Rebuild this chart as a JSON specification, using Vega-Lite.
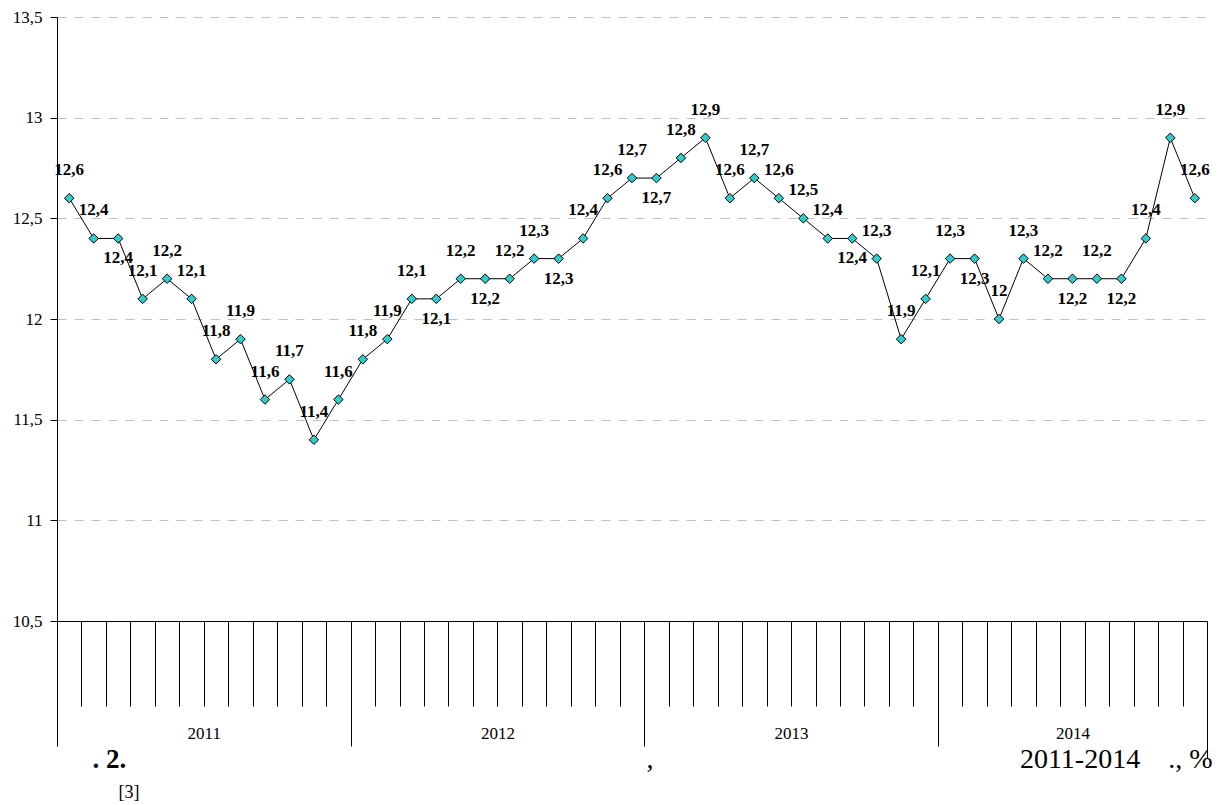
{
  "$schema": "https://vega.github.io/schema/vega-lite/v6.json",
  "width": 1150,
  "height": 604,
  "autosize": {"type": "none"},
  "padding": {"left": 57, "top": 17, "right": 22, "bottom": 184},
  "background": "white",
  "config": {
    "view": {"stroke": null},
    "font": "Liberation Serif",
    "locale": {"number": {"decimal": ",", "thousands": " ", "grouping": [3], "currency": ["", ""]}},
    "axis": {
      "labelFont": "Liberation Serif",
      "titleFont": "Liberation Serif",
      "labelColor": "black",
      "titleColor": "black",
      "domainColor": "black",
      "tickColor": "black",
      "domainWidth": 1,
      "tickWidth": 1
    }
  },
  "data": {
    "values": [
      {"month": 1, "year": 2011, "value": 12.6},
      {"month": 2, "year": 2011, "value": 12.4},
      {"month": 3, "year": 2011, "value": 12.4},
      {"month": 4, "year": 2011, "value": 12.1},
      {"month": 5, "year": 2011, "value": 12.2},
      {"month": 6, "year": 2011, "value": 12.1},
      {"month": 7, "year": 2011, "value": 11.8},
      {"month": 8, "year": 2011, "value": 11.9},
      {"month": 9, "year": 2011, "value": 11.6},
      {"month": 10, "year": 2011, "value": 11.7},
      {"month": 11, "year": 2011, "value": 11.4},
      {"month": 12, "year": 2011, "value": 11.6},
      {"month": 13, "year": 2012, "value": 11.8},
      {"month": 14, "year": 2012, "value": 11.9},
      {"month": 15, "year": 2012, "value": 12.1},
      {"month": 16, "year": 2012, "value": 12.1},
      {"month": 17, "year": 2012, "value": 12.2},
      {"month": 18, "year": 2012, "value": 12.2},
      {"month": 19, "year": 2012, "value": 12.2},
      {"month": 20, "year": 2012, "value": 12.3},
      {"month": 21, "year": 2012, "value": 12.3},
      {"month": 22, "year": 2012, "value": 12.4},
      {"month": 23, "year": 2012, "value": 12.6},
      {"month": 24, "year": 2012, "value": 12.7},
      {"month": 25, "year": 2013, "value": 12.7},
      {"month": 26, "year": 2013, "value": 12.8},
      {"month": 27, "year": 2013, "value": 12.9},
      {"month": 28, "year": 2013, "value": 12.6},
      {"month": 29, "year": 2013, "value": 12.7},
      {"month": 30, "year": 2013, "value": 12.6},
      {"month": 31, "year": 2013, "value": 12.5},
      {"month": 32, "year": 2013, "value": 12.4},
      {"month": 33, "year": 2013, "value": 12.4},
      {"month": 34, "year": 2013, "value": 12.3},
      {"month": 35, "year": 2013, "value": 11.9},
      {"month": 36, "year": 2013, "value": 12.1},
      {"month": 37, "year": 2014, "value": 12.3},
      {"month": 38, "year": 2014, "value": 12.3},
      {"month": 39, "year": 2014, "value": 12.0},
      {"month": 40, "year": 2014, "value": 12.3},
      {"month": 41, "year": 2014, "value": 12.2},
      {"month": 42, "year": 2014, "value": 12.2},
      {"month": 43, "year": 2014, "value": 12.2},
      {"month": 44, "year": 2014, "value": 12.2},
      {"month": 45, "year": 2014, "value": 12.4},
      {"month": 46, "year": 2014, "value": 12.9},
      {"month": 47, "year": 2014, "value": 12.6}
    ]
  },
  "encoding": {
    "y": {
      "field": "value",
      "type": "quantitative",
      "scale": {"domain": [10.5, 13.5], "nice": false, "zero": false},
      "axis": {
        "values": [10.5, 11, 11.5, 12, 12.5, 13, 13.5],
        "format": ".1~f",
        "tickSize": 7,
        "labelPadding": 8,
        "labelFontSize": 17,
        "grid": true,
        "gridDash": [9, 8],
        "gridColor": {"condition": {"test": "datum.value === 10.5", "value": "rgba(0,0,0,0)"}, "value": "#c0c0c0"},
        "title": "[3]",
        "titleAngle": 0,
        "titleX": 61,
        "titleY": 780,
        "titleAlign": "left",
        "titleBaseline": "alphabetic",
        "titleFontSize": 18,
        "titleFontWeight": "normal"
      }
    }
  },
  "layer": [
    {
      "mark": {"type": "line", "color": "black", "strokeWidth": 1},
      "encoding": {
        "x": {
          "field": "month",
          "type": "quantitative",
          "scale": {"domain": [0.5, 47.5], "nice": false, "zero": false},
          "axis": {
            "orient": "bottom",
            "values": [0.5, 1.5, 2.5, 3.5, 4.5, 5.5, 6.5, 7.5, 8.5, 9.5, 10.5, 11.5, 12.5, 13.5, 14.5, 15.5, 16.5, 17.5, 18.5, 19.5, 20.5, 21.5, 22.5, 23.5, 24.5, 25.5, 26.5, 27.5, 28.5, 29.5, 30.5, 31.5, 32.5, 33.5, 34.5, 35.5, 36.5, 37.5, 38.5, 39.5, 40.5, 41.5, 42.5, 43.5, 44.5, 45.5, 46.5, 47.5],
            "labels": false,
            "grid": false,
            "domain": true,
            "ticks": true,
            "tickSize": {
              "condition": [
                {"test": "datum.value === 0.5 || datum.value === 12.5 || datum.value === 24.5 || datum.value === 36.5", "value": 125},
                {"test": "datum.value === 47.5", "value": 137}
              ],
              "value": 85
            },
            "title": ",",
            "titleX": 589,
            "titleY": 146,
            "titleAlign": "left",
            "titleBaseline": "alphabetic",
            "titleAngle": 0,
            "titleFontSize": 28,
            "titleFontWeight": "normal"
          }
        }
      }
    },
    {
      "mark": {"type": "point", "shape": "diamond", "filled": true, "fill": "#33CCCC", "stroke": "black", "strokeWidth": 1, "size": 90, "opacity": 1},
      "encoding": {
        "x": {
          "field": "month",
          "type": "quantitative",
          "scale": {"domain": [0.5, 47.5], "nice": false, "zero": false},
          "axis": {
            "orient": "bottom",
            "domain": false,
            "ticks": false,
            "labels": false,
            "grid": false,
            "title": ". 2.",
            "titleX": 35,
            "titleY": 146,
            "titleAlign": "left",
            "titleBaseline": "alphabetic",
            "titleAngle": 0,
            "titleFontSize": 27,
            "titleFontWeight": "bold"
          }
        }
      }
    },
    {
      "transform": [
        {"window": [
          {"op": "lag", "field": "value", "param": 1, "as": "l1"},
          {"op": "lag", "field": "value", "param": 2, "as": "l2"},
          {"op": "lag", "field": "value", "param": 3, "as": "l3"},
          {"op": "lag", "field": "value", "param": 4, "as": "l4"}
        ], "sort": [{"field": "month"}]},
        {"filter": "!((datum.value === datum.l1 && datum.value !== datum.l2) || (datum.value === datum.l1 && datum.value === datum.l2 && datum.value === datum.l3 && datum.value !== datum.l4))"}
      ],
      "mark": {"type": "text", "font": "Liberation Serif", "fontWeight": "bold", "fontSize": 17, "color": "black", "baseline": "alphabetic", "align": "center", "dy": -23},
      "encoding": {
        "x": {
          "field": "month",
          "type": "quantitative",
          "scale": {"domain": [0.5, 47.5], "nice": false, "zero": false},
          "axis": {
            "orient": "bottom",
            "values": [6.5, 18.5, 30.5, 42],
            "domain": false,
            "ticks": false,
            "tickSize": 0,
            "grid": false,
            "labelExpr": "datum.value < 12.5 ? '2011' : datum.value < 24.5 ? '2012' : datum.value < 36.5 ? '2013' : '2014'",
            "labelPadding": 112,
            "labelBaseline": "middle",
            "labelAlign": "center",
            "labelFontSize": 17,
            "labelFlush": false,
            "labelOverlap": false,
            "title": "2011-2014\u00a0\u00a0\u00a0\u00a0., %",
            "titleX": 1155,
            "titleY": 146,
            "titleAlign": "right",
            "titleBaseline": "alphabetic",
            "titleAngle": 0,
            "titleFontSize": 28,
            "titleFontWeight": "normal"
          }
        },
        "text": {"field": "value", "type": "quantitative", "format": ".1~f"}
      }
    },
    {
      "transform": [
        {"window": [
          {"op": "lag", "field": "value", "param": 1, "as": "l1"},
          {"op": "lag", "field": "value", "param": 2, "as": "l2"},
          {"op": "lag", "field": "value", "param": 3, "as": "l3"},
          {"op": "lag", "field": "value", "param": 4, "as": "l4"}
        ], "sort": [{"field": "month"}]},
        {"filter": "(datum.value === datum.l1 && datum.value !== datum.l2) || (datum.value === datum.l1 && datum.value === datum.l2 && datum.value === datum.l3 && datum.value !== datum.l4)"}
      ],
      "mark": {"type": "text", "font": "Liberation Serif", "fontWeight": "bold", "fontSize": 17, "color": "black", "baseline": "alphabetic", "align": "center", "dy": 25},
      "encoding": {
        "x": {
          "field": "month",
          "type": "quantitative",
          "scale": {"domain": [0.5, 47.5], "nice": false, "zero": false},
          "axis": null
        },
        "text": {"field": "value", "type": "quantitative", "format": ".1~f"}
      }
    }
  ],
  "resolve": {"axis": {"x": "independent"}}
}
